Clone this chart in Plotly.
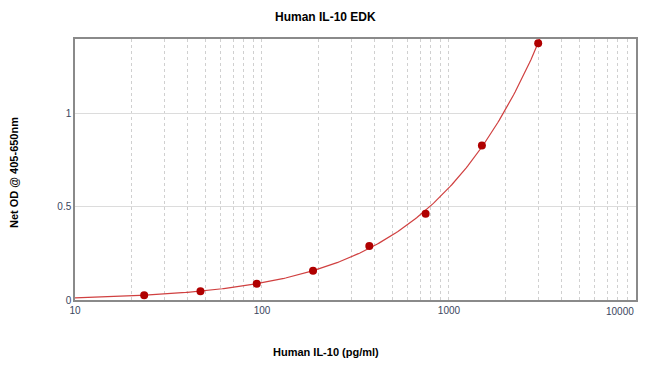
import numpy as np
import plotly.graph_objects as go

# Data
conc = [23.4375, 46.875, 93.75, 187.5, 375, 750, 1500, 3000]
od = [0.026, 0.047, 0.087, 0.157, 0.290, 0.464, 0.830, 1.380]

x_major = [10, 100, 1000]
y_ticks = [0, 0.5, 1]
last_label = "10000"

# Standard-curve fit (quadratic in log-log space) computed from the data
coef = np.polyfit(np.log10(conc), np.log10(od), 2)
xfit = np.logspace(1, np.log10(3400), 300)
yfit = 10 ** np.polyval(coef, np.log10(xfit))

# all grid positions on the log axis
grid_vals = []
for d in [10, 100, 1000]:
    grid_vals += [d * k for k in range(1, 10)]
grid_vals.append(10000)
grid_text = [str(v) if v in x_major else "" for v in grid_vals]

tick_color = "#3a4660"

fig = go.Figure()
fig.add_trace(go.Scatter(x=xfit, y=yfit, mode="lines",
                         line=dict(color="#d04040", width=1.2),
                         hoverinfo="skip", showlegend=False))
fig.add_trace(go.Scatter(x=conc, y=od, mode="markers",
                         marker=dict(color="#b00000", size=8),
                         showlegend=False, cliponaxis=False))

fig.update_layout(
    width=650, height=375,
    margin=dict(l=75, r=14, t=39, b=75),
    paper_bgcolor="white", plot_bgcolor="white",
    font=dict(family="Liberation Sans, Arial", size=10, color=tick_color),
    showlegend=False,
)
fig.update_xaxes(type="log", range=[1, 4.0002],
                 tickvals=grid_vals, ticktext=grid_text,
                 showgrid=True, gridcolor="#d0d0d0", griddash="dot", gridwidth=1,
                 showline=True, linecolor="#8a8a8a", linewidth=1.5, mirror=True,
                 ticks="", zeroline=False, tickfont=dict(size=10))
fig.update_yaxes(range=[0, 1.403], tickvals=y_ticks, ticktext=["0", "0.5", "1"],
                 showgrid=True, gridcolor="#dcdcdc", gridwidth=1,
                 showline=True, linecolor="#8a8a8a", linewidth=1.5, mirror=True,
                 ticks="", zeroline=False, tickfont=dict(size=10))

# last x tick label, kept inside the frame as in the reference
fig.add_annotation(text=last_label, xref="paper", yref="paper", x=1, y=-(311 - 300) / 261,
                   xanchor="right", yanchor="middle", showarrow=False,
                   font=dict(size=10, color=tick_color))

fig.add_annotation(text="<b>Human IL-10 EDK</b>", xref="paper", yref="paper",
                   x=(325 - 75) / 561, y=1 + (39 - 17) / 261, showarrow=False,
                   xanchor="center", yanchor="middle",
                   font=dict(size=12, color="#000000", family="Liberation Sans, Arial"))
fig.add_annotation(text="<b>Human IL-10 (pg/ml)</b>", xref="paper", yref="paper",
                   x=(326 - 75) / 561, y=-(352 - 300) / 261, showarrow=False,
                   xanchor="center", yanchor="middle",
                   font=dict(size=11, color="#000000", family="Liberation Sans, Arial"))
fig.add_annotation(text="<b>Net OD @ 405-650nm</b>", xref="paper", yref="paper",
                   x=-(75 - 14) / 561, y=(300 - 173) / 261, showarrow=False, textangle=-90,
                   xanchor="center", yanchor="middle",
                   font=dict(size=11, color="#000000", family="Liberation Sans, Arial"))

fig.write_html("out.html", config={"displayModeBar": False},
               post_script="document.body.style.margin='0';")
